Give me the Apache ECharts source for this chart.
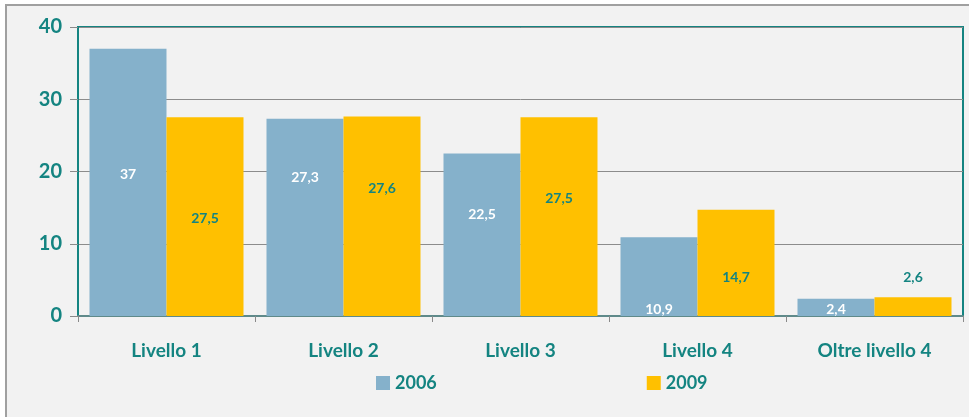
<!DOCTYPE html>
<html>
<head>
<meta charset="utf-8">
<script src="https://cdn.jsdelivr.net/npm/echarts@6/dist/echarts.min.js"></script>
<style>
  html, body { margin: 0; padding: 0; background: #ffffff; }
  #chart { width: 969px; height: 417px; }
</style>
</head>
<body>
<div id="chart"></div>
<script>
// dati del grafico
const categories = ['Livello 1', 'Livello 2', 'Livello 3', 'Livello 4', 'Oltre livello 4']
const values2006 = [37, 27.3, 22.5, 10.9, 2.4]
const values2009 = [27.5, 27.6, 27.5, 14.7, 2.6]
const yTicks = [0, 10, 20, 30, 40]

// distanza delle etichette dal fondo della barra (posizionate a mano come nell'originale)
const labelLift2006 = [135, 132, 95, 0, 0]
const labelLift2009 = [91, 121, 111, 32, 32]

const teal = '#148481'
const font = 'Lato, "Open Sans", sans-serif'

const myChart = echarts.init(document.getElementById('chart'))

const fmt = (v) => String(v).replace('.', ',')

function buildData(values, lifts, color) {
  return values.map((v, i) => ({
    value: v,
    label: {
      show: true,
      position: 'insideBottom',
      distance: lifts[i],
      formatter: (p) => fmt(p.value),
      color: color,
      fontFamily: font,
      fontWeight: 'bold',
      fontSize: 14,
    },
  }))
}

myChart.setOption({
  backgroundColor: '#ffffff',
  graphic: [
    {
      type: 'rect',
      z: -10,
      shape: { x: 6, y: 5, width: 1000, height: 500 },
      style: { fill: '#f2f2f2', stroke: '#a0a0a0', lineWidth: 2 },
    },
  ],
  grid: {
    left: 78,
    right: 6,
    top: 27,
    bottom: 101,
    show: true,
    borderColor: teal,
    borderWidth: 2,
    backgroundColor: 'transparent',
  },
  legend: {
    left: 371,
    top: 369,
    itemGap: 210,
    itemWidth: 14,
    itemHeight: 14,
    icon: 'rect',
    textStyle: { color: teal, fontFamily: font, fontWeight: 'bold', fontSize: 18 },
    data: ['2006', '2009'],
  },
  xAxis: {
    type: 'category',
    data: categories,
    axisLine: { lineStyle: { color: '#5f8a8a', width: 2 } },
    axisTick: { show: true, length: 6, lineStyle: { color: '#8a8a8a' } },
    axisLabel: {
      color: teal,
      fontFamily: font,
      fontWeight: 'bold',
      fontSize: 19,
      margin: 25,
    },
  },
  yAxis: {
    type: 'value',
    min: yTicks[0],
    max: yTicks[yTicks.length - 1],
    interval: 10,
    axisLine: { show: true, lineStyle: { color: teal, width: 2 } },
    axisTick: { show: true, length: 8, lineStyle: { color: '#8a8a8a' } },
    splitLine: { lineStyle: { color: '#8c8c8c', width: 1 } },
    axisLabel: {
      color: teal,
      fontFamily: font,
      fontWeight: 'bold',
      fontSize: 20,
      margin: 16,
    },
  },
  series: [
    {
      name: '2006',
      type: 'bar',
      barGap: '0%',
      barCategoryGap: '13%',
      itemStyle: { color: '#85b1cb' },
      data: buildData(values2006, labelLift2006, '#ffffff'),
    },
    {
      name: '2009',
      type: 'bar',
      itemStyle: { color: '#ffc000' },
      data: buildData(values2009, labelLift2009, teal),
    },
  ],
})
</script>
</body>
</html>
